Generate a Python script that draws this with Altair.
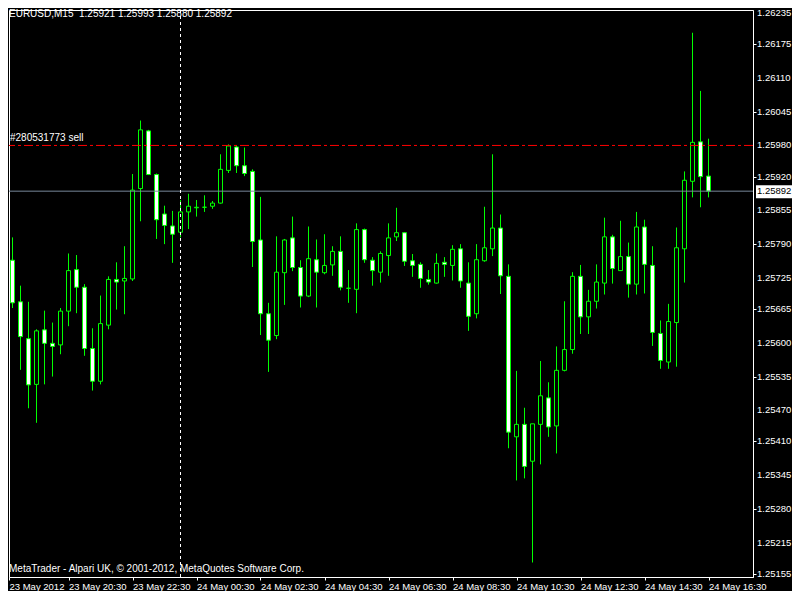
import altair as alt
import pandas as pd

# ---------------- data (EURUSD M15, 23 May 18:30 -> 24 May 16:30) ----------------
opens = [1.25823, 1.25759, 1.25679, 1.25608, 1.25520, 1.25625, 1.25599, 1.25596, 1.25661, 1.25741,
         1.25707, 1.25589, 1.25526, 1.25634, 1.25722, 1.25719, 1.25723, 1.25897, 1.26008, 1.25924,
         1.25848, 1.25825, 1.25813, 1.25852, 1.25860, 1.25861, 1.25863, 1.25869, 1.25932, 1.25977,
         1.25941, 1.25930, 1.25798, 1.25656, 1.25614, 1.25735, 1.25802, 1.25745, 1.25690, 1.25760,
         1.25735, 1.25750, 1.25776, 1.25705, 1.25703, 1.25818, 1.25759, 1.25736, 1.25768, 1.25804,
         1.25812, 1.25758, 1.25751, 1.25722, 1.25715, 1.25755, 1.25749, 1.25781, 1.25715, 1.25656,
         1.25758, 1.25781, 1.25821, 1.25728, 1.25419, 1.25443, 1.25372, 1.25443, 1.25494, 1.25440,
         1.25547, 1.25587, 1.25728, 1.25650, 1.25680, 1.25715, 1.25804, 1.25739, 1.25766, 1.25713,
         1.25823, 1.25749, 1.25618, 1.25563, 1.25639, 1.25781, 1.25911, 1.25987, 1.25921]
highs = [1.25871, 1.25803, 1.25710, 1.25679, 1.25626, 1.25662, 1.25639, 1.25667, 1.25772, 1.25769,
         1.25713, 1.25628, 1.25691, 1.25728, 1.25755, 1.25786, 1.25925, 1.26028, 1.26010, 1.25926,
         1.25864, 1.25854, 1.25875, 1.25887, 1.25875, 1.25884, 1.25873, 1.25963, 1.25982, 1.25980,
         1.25976, 1.25934, 1.25881, 1.25677, 1.25805, 1.25800, 1.25843, 1.25759, 1.25824, 1.25799,
         1.25809, 1.25786, 1.25805, 1.25740, 1.25830, 1.25820, 1.25765, 1.25776, 1.25830, 1.25860,
         1.25813, 1.25771, 1.25755, 1.25740, 1.25772, 1.25765, 1.25788, 1.25790, 1.25755, 1.25790,
         1.25862, 1.25963, 1.25847, 1.25751, 1.25546, 1.25475, 1.25444, 1.25565, 1.25524, 1.25593,
         1.25680, 1.25736, 1.25750, 1.25702, 1.25751, 1.25841, 1.25808, 1.25835, 1.25793, 1.25852,
         1.25837, 1.25786, 1.25643, 1.25675, 1.25822, 1.25930, 1.26197, 1.26085, 1.25993]
lows = [1.25631, 1.25667, 1.25548, 1.25474, 1.25446, 1.25520, 1.25535, 1.25578, 1.25632, 1.25657,
        1.25575, 1.25508, 1.25520, 1.25626, 1.25664, 1.25655, 1.25719, 1.25834, 1.25923, 1.25800,
        1.25790, 1.25754, 1.25803, 1.25819, 1.25843, 1.25852, 1.25858, 1.25868, 1.25927, 1.25927,
        1.25921, 1.25746, 1.25615, 1.25544, 1.25607, 1.25673, 1.25738, 1.25668, 1.25688, 1.25668,
        1.25732, 1.25729, 1.25701, 1.25677, 1.25657, 1.25754, 1.25710, 1.25716, 1.25729, 1.25796,
        1.25748, 1.25727, 1.25706, 1.25712, 1.25714, 1.25727, 1.25720, 1.25706, 1.25623, 1.25647,
        1.25756, 1.25767, 1.25694, 1.25397, 1.25335, 1.25339, 1.25177, 1.25366, 1.25419, 1.25387,
        1.25545, 1.25579, 1.25617, 1.25617, 1.25666, 1.25693, 1.25714, 1.25739, 1.25687, 1.25693,
        1.25695, 1.25594, 1.25550, 1.25550, 1.25554, 1.25716, 1.25880, 1.25861, 1.25880]
closes = [1.25759, 1.25677, 1.25612, 1.25519, 1.25623, 1.25599, 1.25593, 1.25661, 1.25739, 1.25707,
          1.25589, 1.25526, 1.25637, 1.25722, 1.25717, 1.25724, 1.25894, 1.26010, 1.25924, 1.25837,
          1.25826, 1.25809, 1.25852, 1.25863, 1.25861, 1.25861, 1.25869, 1.25934, 1.25979, 1.25941,
          1.25926, 1.25795, 1.25656, 1.25605, 1.25736, 1.25798, 1.25745, 1.25690, 1.25762, 1.25736,
          1.25749, 1.25776, 1.25707, 1.25705, 1.25818, 1.25760, 1.25739, 1.25772, 1.25802, 1.25812,
          1.25757, 1.25749, 1.25724, 1.25717, 1.25753, 1.25751, 1.25780, 1.25719, 1.25651, 1.25760,
          1.25783, 1.25821, 1.25729, 1.25428, 1.25443, 1.25362, 1.25444, 1.25498, 1.25438, 1.25547,
          1.25587, 1.25728, 1.25650, 1.25680, 1.25717, 1.25804, 1.25743, 1.25766, 1.25713, 1.25823,
          1.25751, 1.25620, 1.25566, 1.25641, 1.25783, 1.25913, 1.25986, 1.25920, 1.25892]

time_tick_bars = [0, 8, 16, 24, 32, 40, 48, 56, 64, 72, 80, 88]
time_tick_labels = ["23 May 2012", "23 May 20:30", "23 May 22:30", "24 May 00:30",
                    "24 May 02:30", "24 May 04:30", "24 May 06:30", "24 May 08:30",
                    "24 May 10:30", "24 May 12:30", "24 May 14:30", "24 May 16:30"]
price_ticks = [1.26235, 1.26175, 1.26110, 1.26045, 1.25980, 1.25920, 1.25855, 1.25790,
               1.25725, 1.25665, 1.25600, 1.25535, 1.25470, 1.25410, 1.25345, 1.25280,
               1.25215, 1.25155]

title_text = "EURUSD,M15\u00a0 1.25921 1.25993 1.25880 1.25892"
order_label = "#280531773 sell"
order_price = 1.25980
bid_price = 1.25892
crosshair_bar = 22
copyright_text = "MetaTrader - Alpari UK, \u00a9 2001-2012, MetaQuotes Software Corp."

# ---------------- chart ----------------
df = pd.DataFrame({"i": list(range(len(opens))), "open": opens, "high": highs,
                   "low": lows, "close": closes})

W, H = 744, 567
X_LO = 0.5625
X_HI = X_LO + W / 8.0
FONT = "Liberation Sans, Arial, sans-serif"
FS = 10
YFS = 9.5
GREEN = "#00ff00"

tick_vals = [X_LO] + time_tick_bars[1:]
expr_parts = ["datum.value < 1 ? '%s'" % time_tick_labels[0]]
for b, l in zip(time_tick_bars[1:], time_tick_labels[1:]):
    expr_parts.append("datum.value == %d ? '%s'" % (b, l))
label_expr = " : ".join(expr_parts) + " : ''"

xs = alt.Scale(domain=[X_LO, X_HI], nice=False, zero=False, padding=0)
ys = alt.Scale(domain=[1.251491, 1.262408], nice=False, zero=False, padding=0)

x_axis = alt.Axis(values=tick_vals, labelExpr=label_expr, labelAlign="left", labelPadding=1,
                  tickSize=3, grid=False, title=None, labelFlush=False, labelOverlap=False,
                  labelBound=False, labelFontSize=9.5)
y_axis = alt.Axis(orient="right", values=price_ticks, labels=False, grid=False, tickSize=3,
                  title=None)

base = alt.Chart(df)

wicks = base.mark_rule(color=GREEN, strokeWidth=1, clip=True).encode(
    x=alt.X("i:Q", scale=xs, axis=x_axis),
    y=alt.Y("low:Q", scale=ys, axis=y_axis),
    y2="high:Q",
)

bodies = base.mark_bar(width=4, stroke=GREEN, strokeWidth=1, clip=True).encode(
    x=alt.X("i:Q", scale=xs, axis=x_axis),
    y=alt.Y("open:Q", scale=ys, axis=y_axis),
    y2="close:Q",
    fill=alt.condition("datum.close < datum.open", alt.value("white"), alt.value("black")),
)

one = pd.DataFrame({"k": [0]})

bid_line = alt.Chart(one).mark_rule(color="#778899", strokeWidth=1).encode(
    y=alt.datum(bid_price))
order_line = alt.Chart(one).mark_rule(color="#ff0000", strokeWidth=1, strokeDash=[9, 3, 3, 3]).encode(
    y=alt.datum(order_price))
cross = alt.Chart(one).mark_rule(color="white", strokeWidth=1, strokeDash=[3, 3]).encode(
    x=alt.datum(crosshair_bar))

price_labels = alt.Chart(pd.DataFrame({"p": price_ticks})).mark_text(
    align="left", baseline="middle", color="white", font=FONT, fontSize=YFS
).encode(x=alt.value(W + 4), y=alt.Y("p:Q"), text=alt.Text("p:Q", format=".5f"))

order_text = alt.Chart(pd.DataFrame({"t": [order_label]})).mark_text(
    align="left", baseline="middle", color="white", font=FONT, fontSize=FS, dy=-7
).encode(x=alt.value(1), y=alt.datum(order_price), text="t:N")

title = alt.Chart(pd.DataFrame({"t": [title_text]})).mark_text(
    align="left", baseline="middle", color="white", font=FONT, fontSize=FS
).encode(x=alt.value(0), y=alt.value(4), text="t:N")

copy = alt.Chart(pd.DataFrame({"t": [copyright_text]})).mark_text(
    align="left", baseline="middle", color="white", font=FONT, fontSize=FS
).encode(x=alt.value(0), y=alt.value(H - 8), text="t:N")

bid_box = alt.Chart(one).mark_rect(color="white", yOffset=-6, y2Offset=7).encode(
    x=alt.value(W + 3), x2=alt.value(W + 39), y=alt.datum(bid_price), y2=alt.datum(bid_price))
bid_text = alt.Chart(pd.DataFrame({"t": ["%.5f" % bid_price]})).mark_text(
    align="left", baseline="middle", color="black", font=FONT, fontSize=YFS
).encode(x=alt.value(W + 4), y=alt.datum(bid_price), text="t:N")

chart = alt.layer(
    wicks, bodies, bid_line, order_line, cross, price_labels, order_text, title, copy,
    bid_box, bid_text
).properties(
    width=W, height=H, background="black", padding=0
).configure_view(
    stroke="white", strokeWidth=1, fill="black"
).configure_axis(
    domainColor="white", tickColor="white", labelColor="white",
    labelFont=FONT, labelFontSize=FS, labelOverlap=False
).configure_scale(
    continuousPadding=0
)

chart.save("out.html", embed_options={"renderer": "svg", "actions": False})
